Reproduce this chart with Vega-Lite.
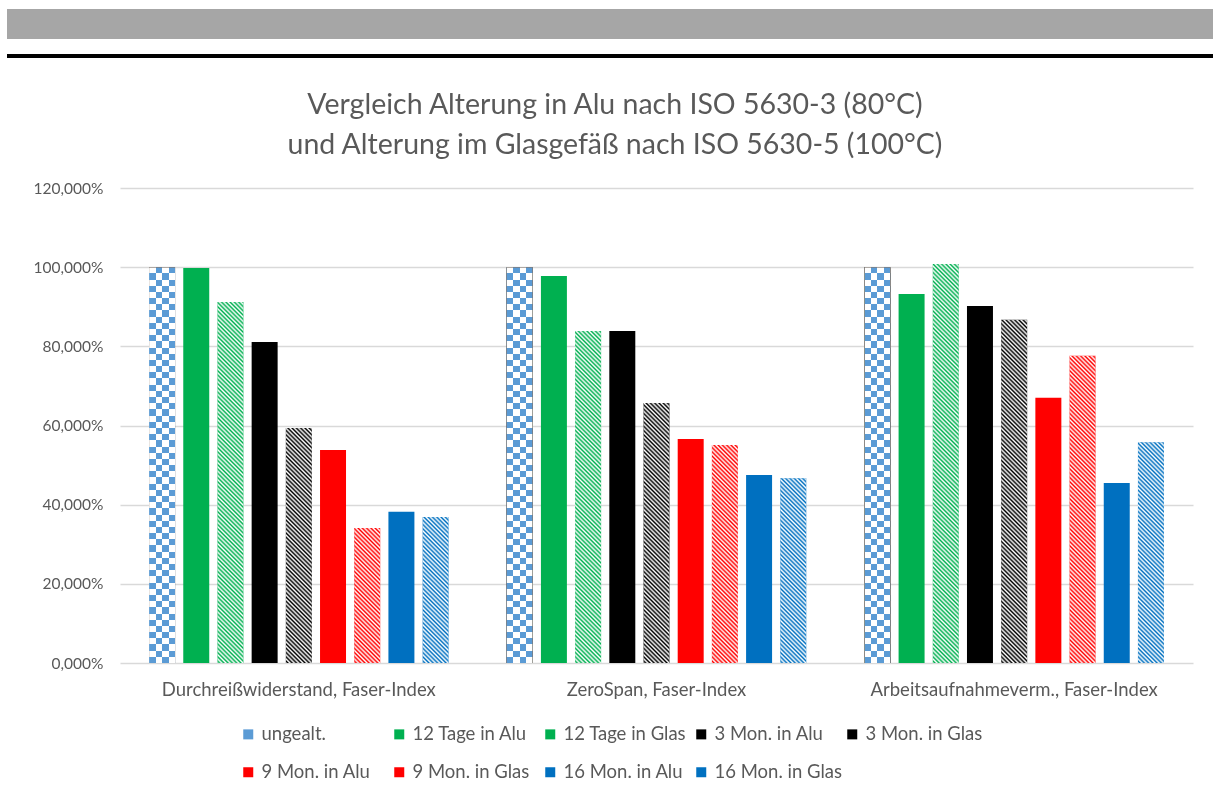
{
  "$schema": "https://vega.github.io/schema/vega-lite/v6.json",
  "background": "white",
  "padding": {"left": 7, "top": 9, "right": 0, "bottom": 0},
  "config": {"font": "Lato", "view": {"stroke": null}},
  "params": [{"name": "hatch", "value": [
{"offset":0,"color":"#fff"},{"offset":0.005,"color":"rgba(255,255,255,0)"},{"offset":0.01,"color":"#fff"},{"offset":0.015,"color":"rgba(255,255,255,0)"},{"offset":0.02,"color":"#fff"},{"offset":0.025,"color":"rgba(255,255,255,0)"},{"offset":0.03,"color":"#fff"},{"offset":0.035,"color":"rgba(255,255,255,0)"},{"offset":0.04,"color":"#fff"},{"offset":0.045,"color":"rgba(255,255,255,0)"},
{"offset":0.05,"color":"#fff"},{"offset":0.055,"color":"rgba(255,255,255,0)"},{"offset":0.06,"color":"#fff"},{"offset":0.065,"color":"rgba(255,255,255,0)"},{"offset":0.07,"color":"#fff"},{"offset":0.075,"color":"rgba(255,255,255,0)"},{"offset":0.08,"color":"#fff"},{"offset":0.085,"color":"rgba(255,255,255,0)"},{"offset":0.09,"color":"#fff"},{"offset":0.095,"color":"rgba(255,255,255,0)"},
{"offset":0.1,"color":"#fff"},{"offset":0.105,"color":"rgba(255,255,255,0)"},{"offset":0.11,"color":"#fff"},{"offset":0.115,"color":"rgba(255,255,255,0)"},{"offset":0.12,"color":"#fff"},{"offset":0.125,"color":"rgba(255,255,255,0)"},{"offset":0.13,"color":"#fff"},{"offset":0.135,"color":"rgba(255,255,255,0)"},{"offset":0.14,"color":"#fff"},{"offset":0.145,"color":"rgba(255,255,255,0)"},
{"offset":0.15,"color":"#fff"},{"offset":0.155,"color":"rgba(255,255,255,0)"},{"offset":0.16,"color":"#fff"},{"offset":0.165,"color":"rgba(255,255,255,0)"},{"offset":0.17,"color":"#fff"},{"offset":0.175,"color":"rgba(255,255,255,0)"},{"offset":0.18,"color":"#fff"},{"offset":0.185,"color":"rgba(255,255,255,0)"},{"offset":0.19,"color":"#fff"},{"offset":0.195,"color":"rgba(255,255,255,0)"},
{"offset":0.2,"color":"#fff"},{"offset":0.205,"color":"rgba(255,255,255,0)"},{"offset":0.21,"color":"#fff"},{"offset":0.215,"color":"rgba(255,255,255,0)"},{"offset":0.22,"color":"#fff"},{"offset":0.225,"color":"rgba(255,255,255,0)"},{"offset":0.23,"color":"#fff"},{"offset":0.235,"color":"rgba(255,255,255,0)"},{"offset":0.24,"color":"#fff"},{"offset":0.245,"color":"rgba(255,255,255,0)"},
{"offset":0.25,"color":"#fff"},{"offset":0.255,"color":"rgba(255,255,255,0)"},{"offset":0.26,"color":"#fff"},{"offset":0.265,"color":"rgba(255,255,255,0)"},{"offset":0.27,"color":"#fff"},{"offset":0.275,"color":"rgba(255,255,255,0)"},{"offset":0.28,"color":"#fff"},{"offset":0.285,"color":"rgba(255,255,255,0)"},{"offset":0.29,"color":"#fff"},{"offset":0.295,"color":"rgba(255,255,255,0)"},
{"offset":0.3,"color":"#fff"},{"offset":0.305,"color":"rgba(255,255,255,0)"},{"offset":0.31,"color":"#fff"},{"offset":0.315,"color":"rgba(255,255,255,0)"},{"offset":0.32,"color":"#fff"},{"offset":0.325,"color":"rgba(255,255,255,0)"},{"offset":0.33,"color":"#fff"},{"offset":0.335,"color":"rgba(255,255,255,0)"},{"offset":0.34,"color":"#fff"},{"offset":0.345,"color":"rgba(255,255,255,0)"},
{"offset":0.35,"color":"#fff"},{"offset":0.355,"color":"rgba(255,255,255,0)"},{"offset":0.36,"color":"#fff"},{"offset":0.365,"color":"rgba(255,255,255,0)"},{"offset":0.37,"color":"#fff"},{"offset":0.375,"color":"rgba(255,255,255,0)"},{"offset":0.38,"color":"#fff"},{"offset":0.385,"color":"rgba(255,255,255,0)"},{"offset":0.39,"color":"#fff"},{"offset":0.395,"color":"rgba(255,255,255,0)"},
{"offset":0.4,"color":"#fff"},{"offset":0.405,"color":"rgba(255,255,255,0)"},{"offset":0.41,"color":"#fff"},{"offset":0.415,"color":"rgba(255,255,255,0)"},{"offset":0.42,"color":"#fff"},{"offset":0.425,"color":"rgba(255,255,255,0)"},{"offset":0.43,"color":"#fff"},{"offset":0.435,"color":"rgba(255,255,255,0)"},{"offset":0.44,"color":"#fff"},{"offset":0.445,"color":"rgba(255,255,255,0)"},
{"offset":0.45,"color":"#fff"},{"offset":0.455,"color":"rgba(255,255,255,0)"},{"offset":0.46,"color":"#fff"},{"offset":0.465,"color":"rgba(255,255,255,0)"},{"offset":0.47,"color":"#fff"},{"offset":0.475,"color":"rgba(255,255,255,0)"},{"offset":0.48,"color":"#fff"},{"offset":0.485,"color":"rgba(255,255,255,0)"},{"offset":0.49,"color":"#fff"},{"offset":0.495,"color":"rgba(255,255,255,0)"},
{"offset":0.5,"color":"#fff"},{"offset":0.505,"color":"rgba(255,255,255,0)"},{"offset":0.51,"color":"#fff"},{"offset":0.515,"color":"rgba(255,255,255,0)"},{"offset":0.52,"color":"#fff"},{"offset":0.525,"color":"rgba(255,255,255,0)"},{"offset":0.53,"color":"#fff"},{"offset":0.535,"color":"rgba(255,255,255,0)"},{"offset":0.54,"color":"#fff"},{"offset":0.545,"color":"rgba(255,255,255,0)"},
{"offset":0.55,"color":"#fff"},{"offset":0.555,"color":"rgba(255,255,255,0)"},{"offset":0.56,"color":"#fff"},{"offset":0.565,"color":"rgba(255,255,255,0)"},{"offset":0.57,"color":"#fff"},{"offset":0.575,"color":"rgba(255,255,255,0)"},{"offset":0.58,"color":"#fff"},{"offset":0.585,"color":"rgba(255,255,255,0)"},{"offset":0.59,"color":"#fff"},{"offset":0.595,"color":"rgba(255,255,255,0)"},
{"offset":0.6,"color":"#fff"},{"offset":0.605,"color":"rgba(255,255,255,0)"},{"offset":0.61,"color":"#fff"},{"offset":0.615,"color":"rgba(255,255,255,0)"},{"offset":0.62,"color":"#fff"},{"offset":0.625,"color":"rgba(255,255,255,0)"},{"offset":0.63,"color":"#fff"},{"offset":0.635,"color":"rgba(255,255,255,0)"},{"offset":0.64,"color":"#fff"},{"offset":0.645,"color":"rgba(255,255,255,0)"},
{"offset":0.65,"color":"#fff"},{"offset":0.655,"color":"rgba(255,255,255,0)"},{"offset":0.66,"color":"#fff"},{"offset":0.665,"color":"rgba(255,255,255,0)"},{"offset":0.67,"color":"#fff"},{"offset":0.675,"color":"rgba(255,255,255,0)"},{"offset":0.68,"color":"#fff"},{"offset":0.685,"color":"rgba(255,255,255,0)"},{"offset":0.69,"color":"#fff"},{"offset":0.695,"color":"rgba(255,255,255,0)"},
{"offset":0.7,"color":"#fff"},{"offset":0.705,"color":"rgba(255,255,255,0)"},{"offset":0.71,"color":"#fff"},{"offset":0.715,"color":"rgba(255,255,255,0)"},{"offset":0.72,"color":"#fff"},{"offset":0.725,"color":"rgba(255,255,255,0)"},{"offset":0.73,"color":"#fff"},{"offset":0.735,"color":"rgba(255,255,255,0)"},{"offset":0.74,"color":"#fff"},{"offset":0.745,"color":"rgba(255,255,255,0)"},
{"offset":0.75,"color":"#fff"},{"offset":0.755,"color":"rgba(255,255,255,0)"},{"offset":0.76,"color":"#fff"},{"offset":0.765,"color":"rgba(255,255,255,0)"},{"offset":0.77,"color":"#fff"},{"offset":0.775,"color":"rgba(255,255,255,0)"},{"offset":0.78,"color":"#fff"},{"offset":0.785,"color":"rgba(255,255,255,0)"},{"offset":0.79,"color":"#fff"},{"offset":0.795,"color":"rgba(255,255,255,0)"},
{"offset":0.8,"color":"#fff"},{"offset":0.805,"color":"rgba(255,255,255,0)"},{"offset":0.81,"color":"#fff"},{"offset":0.815,"color":"rgba(255,255,255,0)"},{"offset":0.82,"color":"#fff"},{"offset":0.825,"color":"rgba(255,255,255,0)"},{"offset":0.83,"color":"#fff"},{"offset":0.835,"color":"rgba(255,255,255,0)"},{"offset":0.84,"color":"#fff"},{"offset":0.845,"color":"rgba(255,255,255,0)"},
{"offset":0.85,"color":"#fff"},{"offset":0.855,"color":"rgba(255,255,255,0)"},{"offset":0.86,"color":"#fff"},{"offset":0.865,"color":"rgba(255,255,255,0)"},{"offset":0.87,"color":"#fff"},{"offset":0.875,"color":"rgba(255,255,255,0)"},{"offset":0.88,"color":"#fff"},{"offset":0.885,"color":"rgba(255,255,255,0)"},{"offset":0.89,"color":"#fff"},{"offset":0.895,"color":"rgba(255,255,255,0)"},
{"offset":0.9,"color":"#fff"},{"offset":0.905,"color":"rgba(255,255,255,0)"},{"offset":0.91,"color":"#fff"},{"offset":0.915,"color":"rgba(255,255,255,0)"},{"offset":0.92,"color":"#fff"},{"offset":0.925,"color":"rgba(255,255,255,0)"},{"offset":0.93,"color":"#fff"},{"offset":0.935,"color":"rgba(255,255,255,0)"},{"offset":0.94,"color":"#fff"},{"offset":0.945,"color":"rgba(255,255,255,0)"},
{"offset":0.95,"color":"#fff"},{"offset":0.955,"color":"rgba(255,255,255,0)"},{"offset":0.96,"color":"#fff"},{"offset":0.965,"color":"rgba(255,255,255,0)"},{"offset":0.97,"color":"#fff"},{"offset":0.975,"color":"rgba(255,255,255,0)"},{"offset":0.98,"color":"#fff"},{"offset":0.985,"color":"rgba(255,255,255,0)"},{"offset":0.99,"color":"#fff"},{"offset":0.995,"color":"rgba(255,255,255,0)"},
{"offset":1,"color":"#fff"}
  ]}],
  "spacing": 29,
  "vconcat": [
    {
      "spacing": 11,
      "vconcat": [
        {"width": 1206, "height": 30, "view": {"fill": "#A6A6A6", "stroke": null}, "data": {"values": [{"a": 0}]}, "mark": {"type": "text", "text": ""}, "encoding": {}},
        {"width": 1206, "height": 4, "view": {"fill": "#000000", "stroke": null}, "data": {"values": [{"a": 0}]}, "mark": {"type": "text", "text": ""}, "encoding": {}}
      ]
    },
    {
      "width": 1206,
      "height": 475,
      "title": {
        "text": ["Vergleich Alterung in Alu nach ISO 5630-3 (80°C)", "und Alterung im Glasgefäß nach ISO 5630-5 (100°C)"],
        "fontSize": 28.5, "fontWeight": "normal", "color": "#595959", "lineHeight": 40, "anchor": "middle", "offset": 22, "dx": 5
      },
      "data": {"values": [
        {"category": "Durchreißwiderstand, Faser-Index", "series": "ungealt.", "value": 1.0},
        {"category": "Durchreißwiderstand, Faser-Index", "series": "12 Tage in Alu", "value": 0.998},
        {"category": "Durchreißwiderstand, Faser-Index", "series": "12 Tage in Glas", "value": 0.912},
        {"category": "Durchreißwiderstand, Faser-Index", "series": "3 Mon. in Alu", "value": 0.811},
        {"category": "Durchreißwiderstand, Faser-Index", "series": "3 Mon. in Glas", "value": 0.594},
        {"category": "Durchreißwiderstand, Faser-Index", "series": "9 Mon. in Alu", "value": 0.538},
        {"category": "Durchreißwiderstand, Faser-Index", "series": "9 Mon. in Glas", "value": 0.341},
        {"category": "Durchreißwiderstand, Faser-Index", "series": "16 Mon. in Alu", "value": 0.382},
        {"category": "Durchreißwiderstand, Faser-Index", "series": "16 Mon. in Glas", "value": 0.369},
        {"category": "ZeroSpan, Faser-Index", "series": "ungealt.", "value": 1.0},
        {"category": "ZeroSpan, Faser-Index", "series": "12 Tage in Alu", "value": 0.978},
        {"category": "ZeroSpan, Faser-Index", "series": "12 Tage in Glas", "value": 0.839},
        {"category": "ZeroSpan, Faser-Index", "series": "3 Mon. in Alu", "value": 0.839},
        {"category": "ZeroSpan, Faser-Index", "series": "3 Mon. in Glas", "value": 0.657},
        {"category": "ZeroSpan, Faser-Index", "series": "9 Mon. in Alu", "value": 0.566},
        {"category": "ZeroSpan, Faser-Index", "series": "9 Mon. in Glas", "value": 0.551},
        {"category": "ZeroSpan, Faser-Index", "series": "16 Mon. in Alu", "value": 0.475},
        {"category": "ZeroSpan, Faser-Index", "series": "16 Mon. in Glas", "value": 0.467},
        {"category": "Arbeitsaufnahmeverm., Faser-Index", "series": "ungealt.", "value": 1.0},
        {"category": "Arbeitsaufnahmeverm., Faser-Index", "series": "12 Tage in Alu", "value": 0.932},
        {"category": "Arbeitsaufnahmeverm., Faser-Index", "series": "12 Tage in Glas", "value": 1.008},
        {"category": "Arbeitsaufnahmeverm., Faser-Index", "series": "3 Mon. in Alu", "value": 0.902},
        {"category": "Arbeitsaufnahmeverm., Faser-Index", "series": "3 Mon. in Glas", "value": 0.867},
        {"category": "Arbeitsaufnahmeverm., Faser-Index", "series": "9 Mon. in Alu", "value": 0.670},
        {"category": "Arbeitsaufnahmeverm., Faser-Index", "series": "9 Mon. in Glas", "value": 0.776},
        {"category": "Arbeitsaufnahmeverm., Faser-Index", "series": "16 Mon. in Alu", "value": 0.455},
        {"category": "Arbeitsaufnahmeverm., Faser-Index", "series": "16 Mon. in Glas", "value": 0.558}
      ]},
      "encoding": {
        "x": {
          "field": "category", "type": "nominal",
          "scale": {"domain": ["Durchreißwiderstand, Faser-Index", "ZeroSpan, Faser-Index", "Arbeitsaufnahmeverm., Faser-Index"], "range": [113, 1186], "paddingInner": 0, "paddingOuter": 0},
          "axis": {"title": null, "labelAngle": 0, "domain": false, "ticks": false, "grid": false, "labelPadding": 17, "labelFontSize": 18.5, "labelColor": "#595959", "labelLimit": 0}
        },
        "xOffset": {
          "field": "series", "type": "nominal",
          "scale": {"domain": ["ungealt.", "12 Tage in Alu", "12 Tage in Glas", "3 Mon. in Alu", "3 Mon. in Glas", "9 Mon. in Alu", "9 Mon. in Glas", "16 Mon. in Alu", "16 Mon. in Glas"], "paddingInner": 0.24, "paddingOuter": 0.85}
        },
        "y": {
          "field": "value", "type": "quantitative", "stack": null,
          "scale": {"domain": [0, 1.2], "nice": false},
          "axis": {"title": null, "values": [0, 0.2, 0.4, 0.6, 0.8, 1, 1.2], "labelExpr": "replace(format(datum.value, '.3%'), '.', ',')", "domain": false, "ticks": false, "offset": -113, "labelPadding": 17, "labelFontSize": 15.5, "labelColor": "#595959", "gridColor": "#D9D9D9", "gridWidth": 1.3}
        }
      },
      "layer": [
        {
          "mark": {"type": "bar"},
          "encoding": {
            "color": {
              "field": "series", "type": "nominal",
              "scale": {"domain": ["ungealt.", "12 Tage in Alu", "12 Tage in Glas", "3 Mon. in Alu", "3 Mon. in Glas", "9 Mon. in Alu", "9 Mon. in Glas", "16 Mon. in Alu", "16 Mon. in Glas"], "range": ["#5B9BD5", "#00B050", "#00B050", "#000000", "#000000", "#FF0000", "#FF0000", "#0070C0", "#0070C0"]},
              "legend": {"title": null, "orient": "none", "legendX": 232, "legendY": 716, "direction": "horizontal", "columns": 5, "gridAlign": "all", "symbolType": "square", "symbolSize": 100, "symbolStrokeWidth": 0, "labelFontSize": 18.5, "labelColor": "#595959", "columnPadding": -7, "rowPadding": 19, "labelLimit": 0}
            }
          }
        },
        {
          "transform": [{"filter": {"field": "series", "oneOf": ["12 Tage in Glas", "3 Mon. in Glas", "9 Mon. in Glas", "16 Mon. in Glas"]}}],
          "mark": {"type": "bar", "fill": {"expr": "{gradient: 'linear', x1: 0, y1: 1, x2: 427*26/(676+pow(datum.value*395.83,2)), y2: 1-427*datum.value*395.83/(676+pow(datum.value*395.83,2)), stops: hatch}"}}
        },
        {
          "transform": [{"filter": {"field": "series", "equal": "ungealt."}}],
          "mark": {"type": "bar", "fill": {"gradient": "linear", "x1": 0, "y1": 0, "x2": 1, "y2": 0, "stops": [
            {"offset":0,"color":"#000"},{"offset":0.25,"color":"#000"},{"offset":0.25,"color":"#A4642A"},{"offset":0.5,"color":"#A4642A"},{"offset":0.5,"color":"#000"},{"offset":0.75,"color":"#000"},{"offset":0.75,"color":"#A4642A"},{"offset":1,"color":"#A4642A"}
          ]}}
        },
        {
          "transform": [{"filter": {"field": "series", "equal": "ungealt."}}],
          "mark": {"type": "bar", "blend": "difference", "fill": {"gradient": "linear", "x1": 0, "y1": 0, "x2": 0, "y2": 1, "stops": [
{"offset":0,"color":"#000"},{"offset":0.015625,"color":"#000"},{"offset":0.015625,"color":"#A4642A"},{"offset":0.03125,"color":"#A4642A"},
{"offset":0.03125,"color":"#000"},{"offset":0.046875,"color":"#000"},{"offset":0.046875,"color":"#A4642A"},{"offset":0.0625,"color":"#A4642A"},
{"offset":0.0625,"color":"#000"},{"offset":0.078125,"color":"#000"},{"offset":0.078125,"color":"#A4642A"},{"offset":0.09375,"color":"#A4642A"},
{"offset":0.09375,"color":"#000"},{"offset":0.109375,"color":"#000"},{"offset":0.109375,"color":"#A4642A"},{"offset":0.125,"color":"#A4642A"},
{"offset":0.125,"color":"#000"},{"offset":0.140625,"color":"#000"},{"offset":0.140625,"color":"#A4642A"},{"offset":0.15625,"color":"#A4642A"},
{"offset":0.15625,"color":"#000"},{"offset":0.171875,"color":"#000"},{"offset":0.171875,"color":"#A4642A"},{"offset":0.1875,"color":"#A4642A"},
{"offset":0.1875,"color":"#000"},{"offset":0.203125,"color":"#000"},{"offset":0.203125,"color":"#A4642A"},{"offset":0.21875,"color":"#A4642A"},
{"offset":0.21875,"color":"#000"},{"offset":0.234375,"color":"#000"},{"offset":0.234375,"color":"#A4642A"},{"offset":0.25,"color":"#A4642A"},
{"offset":0.25,"color":"#000"},{"offset":0.265625,"color":"#000"},{"offset":0.265625,"color":"#A4642A"},{"offset":0.28125,"color":"#A4642A"},
{"offset":0.28125,"color":"#000"},{"offset":0.296875,"color":"#000"},{"offset":0.296875,"color":"#A4642A"},{"offset":0.3125,"color":"#A4642A"},
{"offset":0.3125,"color":"#000"},{"offset":0.328125,"color":"#000"},{"offset":0.328125,"color":"#A4642A"},{"offset":0.34375,"color":"#A4642A"},
{"offset":0.34375,"color":"#000"},{"offset":0.359375,"color":"#000"},{"offset":0.359375,"color":"#A4642A"},{"offset":0.375,"color":"#A4642A"},
{"offset":0.375,"color":"#000"},{"offset":0.390625,"color":"#000"},{"offset":0.390625,"color":"#A4642A"},{"offset":0.40625,"color":"#A4642A"},
{"offset":0.40625,"color":"#000"},{"offset":0.421875,"color":"#000"},{"offset":0.421875,"color":"#A4642A"},{"offset":0.4375,"color":"#A4642A"},
{"offset":0.4375,"color":"#000"},{"offset":0.453125,"color":"#000"},{"offset":0.453125,"color":"#A4642A"},{"offset":0.46875,"color":"#A4642A"},
{"offset":0.46875,"color":"#000"},{"offset":0.484375,"color":"#000"},{"offset":0.484375,"color":"#A4642A"},{"offset":0.5,"color":"#A4642A"},
{"offset":0.5,"color":"#000"},{"offset":0.515625,"color":"#000"},{"offset":0.515625,"color":"#A4642A"},{"offset":0.53125,"color":"#A4642A"},
{"offset":0.53125,"color":"#000"},{"offset":0.546875,"color":"#000"},{"offset":0.546875,"color":"#A4642A"},{"offset":0.5625,"color":"#A4642A"},
{"offset":0.5625,"color":"#000"},{"offset":0.578125,"color":"#000"},{"offset":0.578125,"color":"#A4642A"},{"offset":0.59375,"color":"#A4642A"},
{"offset":0.59375,"color":"#000"},{"offset":0.609375,"color":"#000"},{"offset":0.609375,"color":"#A4642A"},{"offset":0.625,"color":"#A4642A"},
{"offset":0.625,"color":"#000"},{"offset":0.640625,"color":"#000"},{"offset":0.640625,"color":"#A4642A"},{"offset":0.65625,"color":"#A4642A"},
{"offset":0.65625,"color":"#000"},{"offset":0.671875,"color":"#000"},{"offset":0.671875,"color":"#A4642A"},{"offset":0.6875,"color":"#A4642A"},
{"offset":0.6875,"color":"#000"},{"offset":0.703125,"color":"#000"},{"offset":0.703125,"color":"#A4642A"},{"offset":0.71875,"color":"#A4642A"},
{"offset":0.71875,"color":"#000"},{"offset":0.734375,"color":"#000"},{"offset":0.734375,"color":"#A4642A"},{"offset":0.75,"color":"#A4642A"},
{"offset":0.75,"color":"#000"},{"offset":0.765625,"color":"#000"},{"offset":0.765625,"color":"#A4642A"},{"offset":0.78125,"color":"#A4642A"},
{"offset":0.78125,"color":"#000"},{"offset":0.796875,"color":"#000"},{"offset":0.796875,"color":"#A4642A"},{"offset":0.8125,"color":"#A4642A"},
{"offset":0.8125,"color":"#000"},{"offset":0.828125,"color":"#000"},{"offset":0.828125,"color":"#A4642A"},{"offset":0.84375,"color":"#A4642A"},
{"offset":0.84375,"color":"#000"},{"offset":0.859375,"color":"#000"},{"offset":0.859375,"color":"#A4642A"},{"offset":0.875,"color":"#A4642A"},
{"offset":0.875,"color":"#000"},{"offset":0.890625,"color":"#000"},{"offset":0.890625,"color":"#A4642A"},{"offset":0.90625,"color":"#A4642A"},
{"offset":0.90625,"color":"#000"},{"offset":0.921875,"color":"#000"},{"offset":0.921875,"color":"#A4642A"},{"offset":0.9375,"color":"#A4642A"},
{"offset":0.9375,"color":"#000"},{"offset":0.953125,"color":"#000"},{"offset":0.953125,"color":"#A4642A"},{"offset":0.96875,"color":"#A4642A"},
{"offset":0.96875,"color":"#000"},{"offset":0.984375,"color":"#000"},{"offset":0.984375,"color":"#A4642A"},{"offset":1,"color":"#A4642A"}
          ]}}
        },
        {
          "transform": [{"filter": {"field": "series", "equal": "ungealt."}}],
          "mark": {"type": "bar", "blend": "difference", "fill": "#ffffff"}
        }
      ]
    }
  ]
}
